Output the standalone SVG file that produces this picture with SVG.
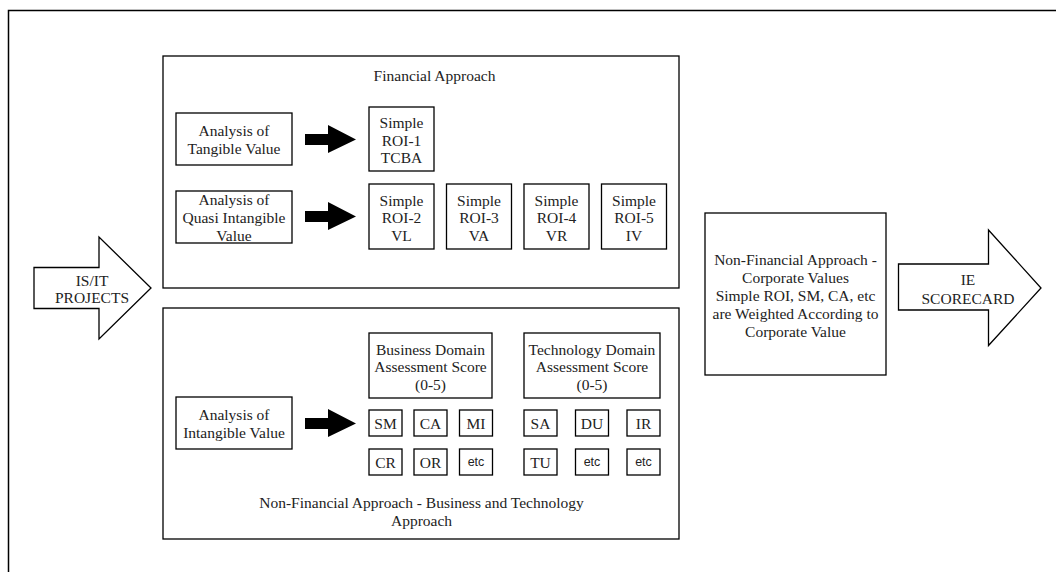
<svg xmlns="http://www.w3.org/2000/svg" width="1056" height="572" viewBox="0 0 1056 572">
  <style>
    .box { fill: #ffffff; stroke: #000000; stroke-width: 1.3; }
    .frame { fill: none; stroke: #000000; stroke-width: 1.5; }
    .hollow { fill: #ffffff; stroke: #000000; stroke-width: 1.3; stroke-linejoin: miter; }
    .solid { fill: #000000; stroke: none; }
    text { font-family: "Liberation Serif", "Times New Roman", serif; font-size: 15.5px; fill: #222222; text-anchor: middle; dominant-baseline: central; }
    .sans { font-family: "Liberation Sans", Arial, sans-serif; font-size: 12.5px; }
  </style>
  <defs>
    <!-- thick block arrow, tip at (0,0), pointing right -->
    <polygon id="blockArrow" points="-51,-5.5 -28,-5.5 -28,-14.5 0,0 -28,13.5 -28,5.5 -51,5.5"/>
  </defs>

  <rect width="1056" height="572" fill="#ffffff"/>

  <!-- outer frame -->
  <path class="frame" d="M 8.5 572 V 10.5 H 1056"/>

  <!-- input arrow -->
  <g id="isit-projects">
    <polygon class="hollow" points="34,267.5 99,267.5 99,237 151,288 99,339 99,308.5 34,308.5"/>
    <text x="92" y="280">IS/IT</text>
    <text x="92" y="297.5">PROJECTS</text>
  </g>

  <!-- financial approach container -->
  <g id="financial-approach">
    <rect class="box" x="163" y="56" width="516" height="232"/>
    <text x="434.5" y="75.5">Financial Approach</text>
  </g>

  <g id="tangible-value">
    <rect class="box" x="176" y="113" width="116" height="52"/>
    <text x="234" y="130.5">Analysis of</text>
    <text x="234" y="148.5">Tangible Value</text>
  </g>

  <g id="quasi-intangible-value">
    <rect class="box" x="176" y="191" width="116" height="52"/>
    <text x="234" y="199.5">Analysis of</text>
    <text x="234" y="217.5">Quasi Intangible</text>
    <text x="234" y="235">Value</text>
  </g>

  <g id="roi-1">
    <rect class="box" x="369" y="107" width="65" height="64"/>
    <text x="401.5" y="122.5">Simple</text>
    <text x="401.5" y="140">ROI-1</text>
    <text x="401.5" y="157.5">TCBA</text>
  </g>

  <g id="roi-2">
    <rect class="box" x="369" y="184" width="65" height="65"/>
    <text x="401.5" y="200">Simple</text>
    <text x="401.5" y="217.5">ROI-2</text>
    <text x="401.5" y="235">VL</text>
  </g>

  <g id="roi-3">
    <rect class="box" x="446.5" y="184" width="65" height="65"/>
    <text x="479" y="200">Simple</text>
    <text x="479" y="217.5">ROI-3</text>
    <text x="479" y="235">VA</text>
  </g>

  <g id="roi-4">
    <rect class="box" x="524" y="184" width="65" height="65"/>
    <text x="556.5" y="200">Simple</text>
    <text x="556.5" y="217.5">ROI-4</text>
    <text x="556.5" y="235">VR</text>
  </g>

  <g id="roi-5">
    <rect class="box" x="601.5" y="184" width="65" height="65"/>
    <text x="634" y="200">Simple</text>
    <text x="634" y="217.5">ROI-5</text>
    <text x="634" y="235">IV</text>
  </g>

  <!-- non-financial business & technology container -->
  <g id="business-technology-approach">
    <rect class="box" x="163" y="308" width="516" height="231"/>
    <text x="421.5" y="502">Non-Financial Approach - Business and Technology</text>
    <text x="421.5" y="520">Approach</text>
  </g>

  <g id="intangible-value">
    <rect class="box" x="176" y="397" width="116" height="52"/>
    <text x="234" y="414.5">Analysis of</text>
    <text x="234" y="432">Intangible Value</text>
  </g>

  <g id="business-domain">
    <rect class="box" x="369" y="333" width="123" height="65"/>
    <text x="430.5" y="349">Business Domain</text>
    <text x="430.5" y="366.5">Assessment Score</text>
    <text x="430.5" y="384">(0-5)</text>
  </g>

  <g id="technology-domain">
    <rect class="box" x="524" y="333" width="136" height="65"/>
    <text x="592" y="349">Technology Domain</text>
    <text x="592" y="366.5">Assessment Score</text>
    <text x="592" y="384">(0-5)</text>
  </g>

  <g id="sm"><rect class="box" x="369" y="410" width="33" height="26"/><text x="385.5" y="423">SM</text></g>
  <g id="ca"><rect class="box" x="414" y="410" width="33" height="26"/><text x="430.5" y="423">CA</text></g>
  <g id="mi"><rect class="box" x="459.5" y="410" width="33" height="26"/><text x="476" y="423">MI</text></g>
  <g id="cr"><rect class="box" x="369" y="449" width="33" height="26"/><text x="385.5" y="462">CR</text></g>
  <g id="or"><rect class="box" x="414" y="449" width="33" height="26"/><text x="430.5" y="462">OR</text></g>
  <g id="etc-business"><rect class="box" x="459.5" y="449" width="33" height="26"/><text class="sans" x="476" y="462">etc</text></g>

  <g id="sa"><rect class="box" x="524" y="410" width="33" height="26"/><text x="540.5" y="423">SA</text></g>
  <g id="du"><rect class="box" x="575.5" y="410" width="33" height="26"/><text x="592" y="423">DU</text></g>
  <g id="ir"><rect class="box" x="627" y="410" width="33" height="26"/><text x="643.5" y="423">IR</text></g>
  <g id="tu"><rect class="box" x="524" y="449" width="33" height="26"/><text x="540.5" y="462">TU</text></g>
  <g id="etc-technology-1"><rect class="box" x="575.5" y="449" width="33" height="26"/><text class="sans" x="592" y="462">etc</text></g>
  <g id="etc-technology-2"><rect class="box" x="627" y="449" width="33" height="26"/><text class="sans" x="643.5" y="462">etc</text></g>

  <!-- corporate values weighting -->
  <g id="corporate-values">
    <rect class="box" x="705" y="213" width="181" height="162"/>
    <text x="795.5" y="259.5">Non-Financial Approach -</text>
    <text x="795.5" y="277">Corporate Values</text>
    <text x="795.5" y="295">Simple ROI, SM, CA, etc</text>
    <text x="795.5" y="313">are Weighted According to</text>
    <text x="795.5" y="331">Corporate Value</text>
  </g>

  <!-- output arrow -->
  <g id="ie-scorecard">
    <polygon class="hollow" points="898.5,264 988.5,264 988.5,230 1041,288 988.5,345.5 988.5,310 898.5,310"/>
    <text x="968" y="279">IE</text>
    <text x="968" y="298">SCORECARD</text>
  </g>

  <!-- connectors -->
  <g id="connectors">
    <use href="#blockArrow" class="solid" x="356" y="139.5"/>
    <use href="#blockArrow" class="solid" x="356" y="216.5"/>
    <use href="#blockArrow" class="solid" x="356" y="423.5"/>
  </g>
</svg>
